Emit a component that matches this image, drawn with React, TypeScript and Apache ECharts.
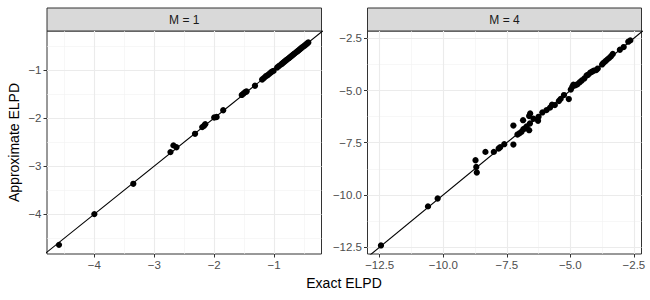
import React, { useEffect, useRef } from "react";
import * as echarts from "echarts";

// ---- data ----
const panelTitles = ["M = 1", "M = 4"];

const leftExact = [-4.59, -4.0, -3.35, -2.73, -2.68, -2.63, -2.32, -2.2, -2.17, -2.15, -2.0, -1.96, -1.85, -1.54, -1.51, -1.48, -1.46, -1.32, -1.2, -1.17, -1.14, -1.11, -1.08, -1.05, -1.03, -1.01, -0.95, -0.92, -0.89, -0.87, -0.85, -0.83, -0.81, -0.79, -0.77, -0.75, -0.73, -0.71, -0.69, -0.67, -0.65, -0.63, -0.61, -0.59, -0.57, -0.55, -0.53, -0.51, -0.49, -0.47, -0.45, -0.43];
const leftApprox = [-4.64, -4.0, -3.37, -2.71, -2.57, -2.61, -2.33, -2.19, -2.16, -2.13, -1.99, -1.98, -1.84, -1.52, -1.49, -1.46, -1.45, -1.33, -1.2, -1.17, -1.13, -1.11, -1.08, -1.05, -1.03, -1.02, -0.95, -0.92, -0.89, -0.87, -0.85, -0.83, -0.81, -0.79, -0.77, -0.75, -0.73, -0.71, -0.69, -0.67, -0.65, -0.63, -0.61, -0.59, -0.57, -0.55, -0.53, -0.51, -0.49, -0.47, -0.45, -0.43];

const rightExact = [-12.45, -10.6, -10.22, -8.73, -8.7, -8.68, -8.34, -8.01, -7.82, -7.76, -7.6, -7.24, -7.24, -7.08, -7.0, -6.92, -6.85, -6.79, -6.72, -6.62, -6.59, -6.86, -6.62, -6.58, -6.45, -6.27, -6.25, -6.1, -5.94, -5.8, -5.72, -5.61, -5.45, -5.38, -5.25, -5.06, -4.98, -4.92, -4.88, -4.8, -4.72, -4.63, -4.55, -4.45, -4.36, -4.3, -4.22, -4.15, -4.08, -3.98, -3.92, -3.75, -3.7, -3.62, -3.55, -3.48, -3.4, -3.33, -3.05, -2.9, -2.72, -2.64];
const rightApprox = [-12.42, -10.55, -10.17, -8.34, -8.66, -8.93, -7.94, -7.94, -7.78, -7.72, -7.57, -7.59, -6.68, -7.11, -7.05, -6.98, -6.85, -6.82, -6.72, -6.9, -6.58, -6.42, -6.22, -6.1, -6.35, -6.45, -6.26, -6.05, -5.94, -5.82, -5.68, -5.7, -5.5, -5.4, -5.22, -5.41, -4.95, -4.82, -4.72, -4.75, -4.7, -4.6, -4.52, -4.42, -4.28, -4.25, -4.15, -4.1, -4.05, -4.02, -3.95, -3.75, -3.68, -3.6, -3.52, -3.45, -3.36, -3.25, -3.05, -2.92, -2.66, -2.6];

const leftRange = { x: [-4.79, -0.21], y: [-4.83, -0.19] };
const rightRange = { x: [-12.98, -2.2], y: [-12.83, -2.15] };

const leftMajorX = [-4, -3, -2, -1];
const leftMinorX = [-4.5, -3.5, -2.5, -1.5, -0.5];
const leftMajorY = [-4, -3, -2, -1];
const leftMinorY = [-4.5, -3.5, -2.5, -1.5, -0.5];

const rightMajorX = [-12.5, -10, -7.5, -5, -2.5];
const rightMinorX = [-11.25, -8.75, -6.25, -3.75];
const rightMajorY = [-12.5, -10, -7.5, -5, -2.5];
const rightMinorY = [-11.25, -8.75, -6.25, -3.75];

const diagonal = [-20, 5];

const FONT = "Liberation Sans, Arial, Helvetica, sans-serif";

export default function App() {
  const ref = useRef<HTMLDivElement>(null);
  useEffect(() => {
    if (!ref.current) return;
    const chart = echarts.init(ref.current, null, { renderer: "svg" });

    const grids = [
      { left: 47, top: 31, width: 274.5, height: 223 },
      { left: 367.5, top: 31, width: 274, height: 223 },
    ];

    const fmt = (dec: number) => (v: number) => {
      const s = Number(v).toFixed(dec);
      return s.replace("-", "\u2212");
    };

    const mkX = (i: number, range: number[], major: number[], dec: number) => ({
      type: "value",
      gridIndex: i,
      min: range[0],
      max: range[1],
      axisLine: { show: false },
      splitLine: { show: false },
      axisTick: { show: true, customValues: major, length: 3.5, lineStyle: { color: "#333333", width: 1 } },
      axisLabel: { customValues: major, formatter: fmt(dec), color: "#4D4D4D", fontSize: 11.5, fontFamily: FONT, margin: 5 },
    });
    const mkY = (i: number, range: number[], major: number[], dec: number) => ({
      type: "value",
      gridIndex: i,
      min: range[0],
      max: range[1],
      axisLine: { show: false },
      splitLine: { show: false },
      axisTick: { show: true, customValues: major, length: 3.5, lineStyle: { color: "#333333", width: 1 } },
      axisLabel: { customValues: major, formatter: fmt(dec), color: "#4D4D4D", fontSize: 11.5, fontFamily: FONT, margin: 5.5 },
    });

    const gridSeries = (i: number, mx: number[], nx: number[], my: number[], ny: number[]) => ({
      type: "scatter",
      xAxisIndex: i,
      yAxisIndex: i,
      data: [],
      silent: true,
      markLine: {
        silent: true,
        symbol: "none",
        z: 1,
        animation: false,
        label: { show: false },
        data: [
          ...nx.map((v) => ({ xAxis: v, lineStyle: { color: "#F2F2F2", width: 0.6, type: "solid" } })),
          ...ny.map((v) => ({ yAxis: v, lineStyle: { color: "#F2F2F2", width: 0.6, type: "solid" } })),
          ...mx.map((v) => ({ xAxis: v, lineStyle: { color: "#EBEBEB", width: 1.1, type: "solid" } })),
          ...my.map((v) => ({ yAxis: v, lineStyle: { color: "#EBEBEB", width: 1.1, type: "solid" } })),
        ],
      },
    });

    const pointSeries = (i: number, xs: number[], ys: number[]) => ({
      type: "scatter",
      xAxisIndex: i,
      yAxisIndex: i,
      symbolSize: 6.3,
      z: 3,
      itemStyle: { color: "#000000", opacity: 1 },
      data: xs.map((x, k) => [x, ys[k]]),
    });

    const lineSeries = (i: number) => ({
      type: "line",
      xAxisIndex: i,
      yAxisIndex: i,
      showSymbol: false,
      symbol: "none",
      clip: true,
      z: 4,
      lineStyle: { color: "#000000", width: 1.1 },
      data: diagonal.map((v) => [v, v]),
    });

    const strips = grids.map((g, i) => ({
      type: "group",
      children: [
        {
          type: "rect",
          shape: { x: g.left, y: 8, width: g.width, height: 23 },
          style: { fill: "#D9D9D9", stroke: "#333333", lineWidth: 1 },
        },
        {
          type: "text",
          x: g.left + g.width / 2,
          y: 19.5,
          style: { text: panelTitles[i], fill: "#1A1A1A", font: `12px ${FONT}`, textAlign: "center", textVerticalAlign: "middle" },
        },
      ],
    }));

    chart.setOption({
      animation: false,
      backgroundColor: "#FFFFFF",
      grid: grids.map((g) => ({ ...g, show: true, borderColor: "#333333", borderWidth: 1, backgroundColor: "transparent", containLabel: false })),
      xAxis: [mkX(0, leftRange.x, leftMajorX, 0), mkX(1, rightRange.x, rightMajorX, 1)],
      yAxis: [mkY(0, leftRange.y, leftMajorY, 0), mkY(1, rightRange.y, rightMajorY, 1)],
      series: [
        gridSeries(0, leftMajorX, leftMinorX, leftMajorY, leftMinorY),
        gridSeries(1, rightMajorX, rightMinorX, rightMajorY, rightMinorY),
        pointSeries(0, leftExact, leftApprox),
        pointSeries(1, rightExact, rightApprox),
        lineSeries(0),
        lineSeries(1),
      ],
      graphic: [
        ...strips,
        {
          type: "text",
          x: 344,
          y: 283,
          style: { text: "Exact ELPD", fill: "#000000", font: `14px ${FONT}`, textAlign: "center", textVerticalAlign: "middle" },
        },
        {
          type: "text",
          x: 14,
          y: 142.5,
          rotation: Math.PI / 2,
          style: { text: "Approximate ELPD", fill: "#000000", font: `14px ${FONT}`, textAlign: "center", textVerticalAlign: "middle" },
        },
      ],
    });
    return () => chart.dispose();
  }, []);

  return <div ref={ref} style={{ position: "fixed", left: 0, top: 0, width: 650, height: 300 }} />;
}
